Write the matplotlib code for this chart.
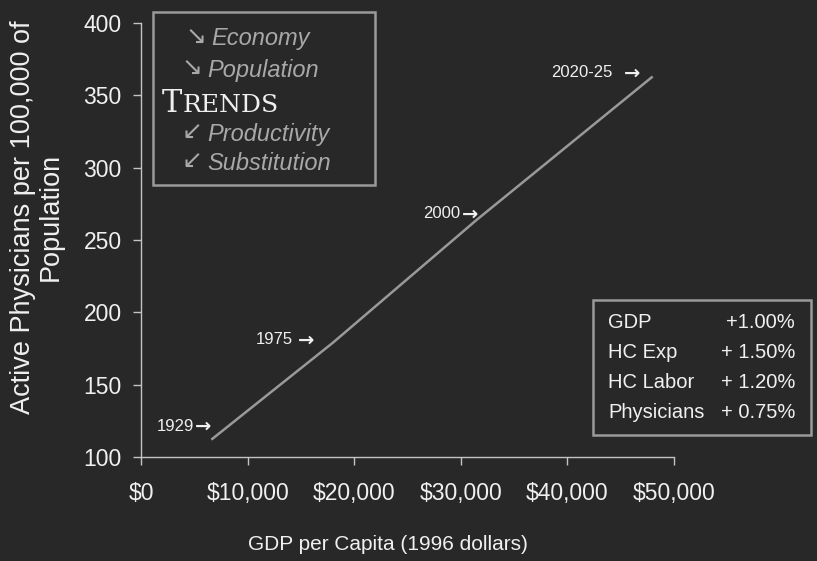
import matplotlib.pyplot as plt
from matplotlib import font_manager
from matplotlib.ticker import FuncFormatter

# GDP per capita (1996 dollars) vs active physicians per 100,000 population.
years = ["1929", "1975", "2000", "2020-25"]
gdp_per_capita = [6600, 18000, 31500, 48000]
physicians = [112, 179, 264, 363]

trend_up = ["Economy", "Population"]
trend_down = ["Productivity", "Substitution"]

growth_names = ["GDP", "HC Exp", "HC Labor", "Physicians"]
growth_rates = ["+1.00%", "+ 1.50%", "+ 1.20%", "+ 0.75%"]

BG = "#282828"
FG = "#f0f0f0"
MUTED = "#a8a8a8"
LINE = "#999999"
AXIS = "#c4c4c4"
W, H = 817, 561

plt.rcParams["font.family"] = ["Liberation Sans", "DejaVu Sans"]


def fx(px):
    return px / W


def fy(py):
    return 1 - py / H


# condensed face for the year markers, if it is around
try:
    font_manager.findfont("Liberation Sans Narrow", fallback_to_default=False)
    year_family, year_size = "Liberation Sans Narrow", 14
except ValueError:
    year_family, year_size = "Liberation Sans", 12

fig = plt.figure(figsize=(W / 100, H / 100), dpi=100, facecolor=BG)
ax = fig.add_axes([fx(141), fy(457), fx(674) - fx(141), fy(23) - fy(457)], facecolor=BG)

ax.plot(gdp_per_capita, physicians, color=LINE, linewidth=1.8, solid_capstyle="butt")

ax.set_xlim(0, 50000)
ax.set_ylim(100, 400)
ax.set_xticks(range(0, 50001, 10000))
ax.set_yticks(range(100, 401, 50))
ax.xaxis.set_major_formatter(FuncFormatter(lambda v, _: f"${v:,.0f}"))

for side in ("top", "right"):
    ax.spines[side].set_visible(False)
for side in ("left", "bottom"):
    ax.spines[side].set_color(AXIS)
    ax.spines[side].set_linewidth(1.0)
ax.tick_params(colors=AXIS, labelcolor=FG, labelsize=16.5, length=6, width=1.0,
               direction="out")
ax.tick_params(axis="x", pad=12)
ax.tick_params(axis="y", pad=8)

fig.text(fx(388), fy(545), "GDP per Capita (1996 dollars)", color=FG, fontsize=15,
         ha="center", va="center")
fig.text(fx(37), fy(217), "Active Physicians per 100,000 of\nPopulation", color=FG,
         fontsize=19.5, rotation=90, ha="center", va="center", multialignment="center",
         linespacing=1.05)

# year markers: arrow tip offset (points) from each point, and gap before the arrow
tip_offsets = [(0, 9.4), (-13.7, 2), (0.8, 4.3), (-9.1, 2.7)]
gaps = [0.5, 3, 0.5, 8]
for year, x, y, (dx, dy), gap in zip(years, gdp_per_capita, physicians, tip_offsets, gaps):
    ax.annotate("\u2192", (x, y), xytext=(dx, dy), textcoords="offset points",
                ha="right", va="center", color=FG, fontsize=14, fontweight="bold",
                family="DejaVu Sans")
    ax.annotate(year, (x, y), xytext=(dx - 12 - gap, dy + 0.3), textcoords="offset points",
                ha="right", va="center", color=FG, fontsize=year_size, family=year_family)

# trends box
fig.patches.append(plt.Rectangle((fx(153), fy(185)), fx(375) - fx(153), fy(12) - fy(185),
                                 transform=fig.transFigure, fill=False,
                                 edgecolor="#9a9a9a", linewidth=1.8))
trend_rows = [
    ("\u2198", trend_up[0], 196, 211, 39),
    ("\u2198", trend_up[1], 192, 207, 70),
    ("\u2199", trend_down[0], 192, 207, 134),
    ("\u2199", trend_down[1], 192, 207, 163),
]
for arrow, text, ax_px, tx_px, py in trend_rows:
    fig.text(fx(ax_px), fy(py - 1), arrow, color=MUTED, fontsize=18, ha="center",
             va="center", family="DejaVu Sans")
    fig.text(fx(tx_px), fy(py), text, color=MUTED, fontsize=17, va="center",
             style="italic")
fig.text(fx(162), fy(112), "T", color=FG, fontsize=22, va="baseline",
         family="DejaVu Serif")
fig.text(fx(183), fy(112), "RENDS", color=FG, fontsize=18, va="baseline",
         family="DejaVu Serif")

# growth rate box
fig.patches.append(plt.Rectangle((fx(593), fy(435)), fx(811) - fx(593), fy(300) - fy(435),
                                 transform=fig.transFigure, fill=False,
                                 edgecolor="#9a9a9a", linewidth=1.8))
for i, (name, rate) in enumerate(zip(growth_names, growth_rates)):
    yy = fy(323 + i * 30)
    fig.text(fx(608), yy, name, color=FG, fontsize=14.5, va="center")
    fig.text(fx(795), yy, rate, color=FG, fontsize=14.5, va="center", ha="right")

fig.savefig("out.png", dpi=100, facecolor=BG)
